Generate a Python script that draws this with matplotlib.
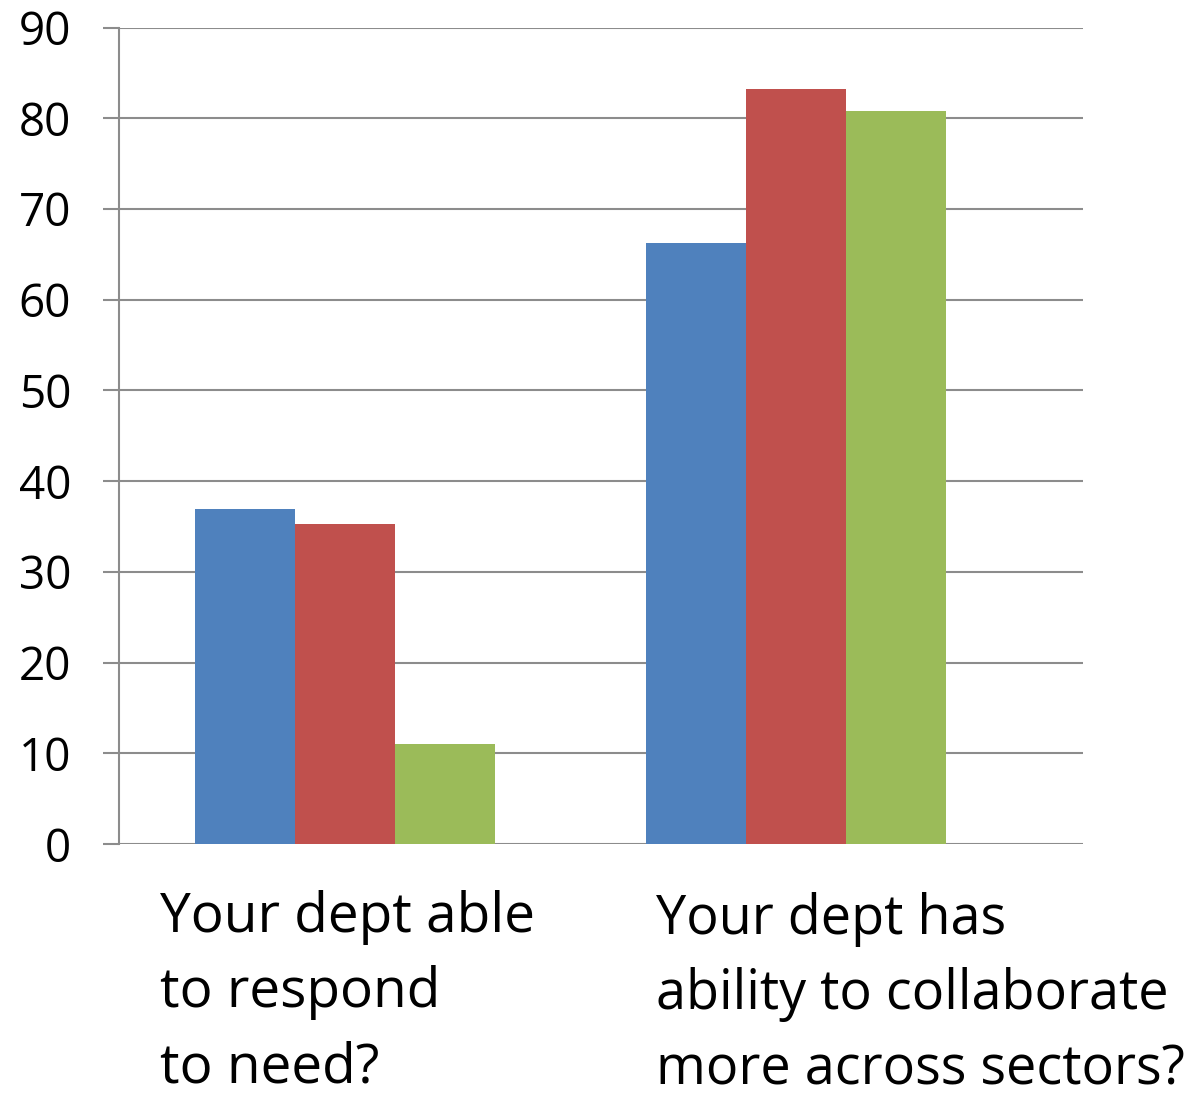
import numpy as np
import matplotlib
matplotlib.use("Agg")
import matplotlib.pyplot as plt

plt.rcParams['font.family'] = ['Open Sans', 'DejaVu Sans']

# data
categories = ["Your dept able\nto respond\nto need?",
              "Your dept has\nability to collaborate\nmore across sectors?"]
series_a = [36.9, 66.3]
series_b = [35.3, 83.2]
series_c = [11.0, 80.8]
colors = ["#4F81BD", "#C0504D", "#9BBB59"]
yticks = list(range(0, 100, 10))

W, H = 1202, 1096
fig = plt.figure(figsize=(W / 100, H / 100), dpi=100)
ax = fig.add_axes([119 / W, 1 - 844 / H, (1083 - 119) / W, (844 - 27.5) / H])

x = np.arange(len(categories))
w = 0.222
for i, (vals, c) in enumerate(zip([series_a, series_b, series_c], colors)):
    ax.bar(x + (i - 1) * w, vals, width=w, color=c, edgecolor='none', zorder=2)

ax.set_xlim(-0.501, 1.636)
ax.set_ylim(0, 90)
ax.set_yticks(yticks)
ax.set_xticks([])
ax.grid(axis='y', color='#8C8C8C', linewidth=1.5, zorder=0)
for s in ['top', 'right', 'bottom']:
    ax.spines[s].set_visible(False)
ax.spines['left'].set_color('#8C8C8C')
ax.spines['left'].set_linewidth(1.5)
ax.tick_params(axis='y', length=11.5, width=1.5, color='#8C8C8C',
               labelsize=33, pad=23)

# category labels below the axis, left aligned
label_x = [160, 656]
label_y = [890, 892]
label_size = [39.5, 38.8]
for lab, lx, ly, fs in zip(categories, label_x, label_y, label_size):
    fig.text(lx / W, 1 - ly / H, lab, ha='left', va='top', fontsize=fs,
             linespacing=1.48)

fig.savefig("out.png", dpi=100)
